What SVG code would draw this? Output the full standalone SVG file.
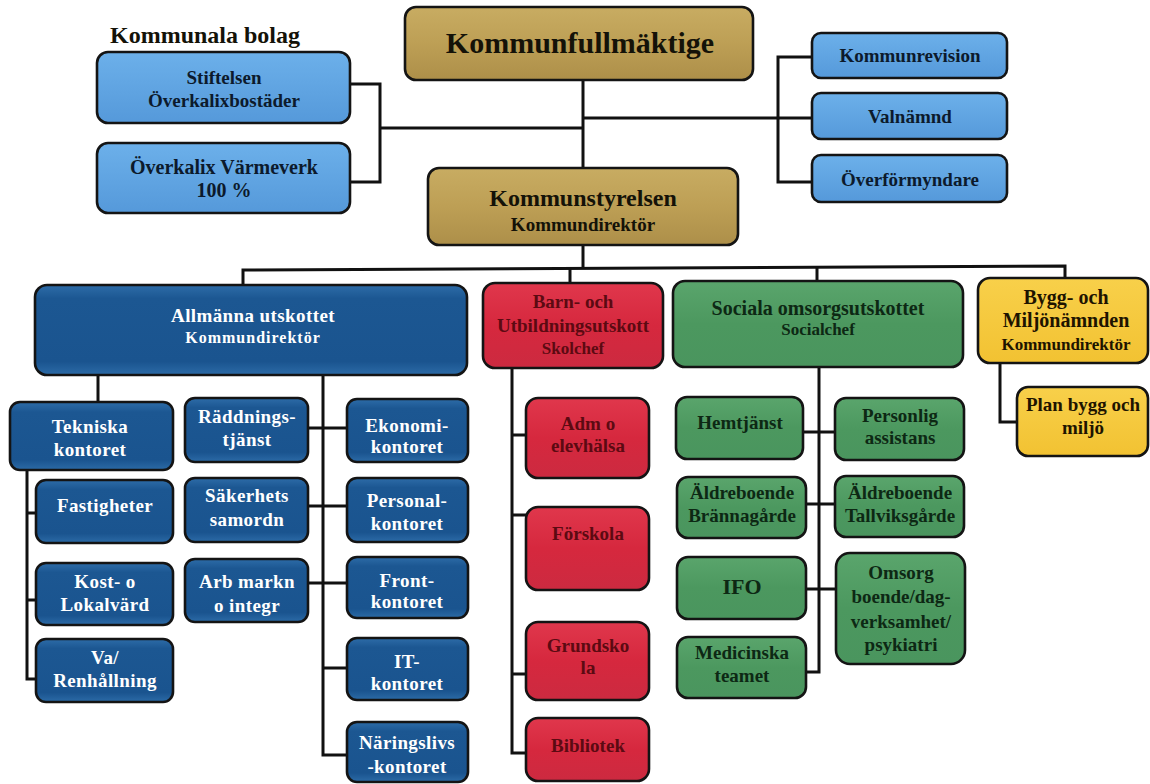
<svg xmlns="http://www.w3.org/2000/svg" width="1150" height="784" viewBox="0 0 1150 784">
<defs>
<linearGradient id="gGold" x1="0" y1="0" x2="0" y2="1"><stop offset="0" stop-color="#c8ac62"/><stop offset="0.5" stop-color="#bd9f55"/><stop offset="1" stop-color="#ad8f49"/></linearGradient>
<linearGradient id="gLBlue" x1="0" y1="0" x2="0" y2="1"><stop offset="0" stop-color="#6cb0ea"/><stop offset="1" stop-color="#5599da"/></linearGradient>
<linearGradient id="gDBlue" x1="0" y1="0" x2="0" y2="1"><stop offset="0" stop-color="#2d6ca8"/><stop offset="0.15" stop-color="#1c5792"/><stop offset="0.85" stop-color="#1a548f"/><stop offset="1" stop-color="#2c6ba7"/></linearGradient>
<linearGradient id="gRed" x1="0" y1="0" x2="0" y2="1"><stop offset="0" stop-color="#e0374c"/><stop offset="0.5" stop-color="#d6283e"/><stop offset="1" stop-color="#cc2a40"/></linearGradient>
<linearGradient id="gGreen" x1="0" y1="0" x2="0" y2="1"><stop offset="0" stop-color="#5aa56c"/><stop offset="0.5" stop-color="#4c985f"/><stop offset="1" stop-color="#4a955e"/></linearGradient>
<linearGradient id="gYellow" x1="0" y1="0" x2="0" y2="1"><stop offset="0" stop-color="#f8d04a"/><stop offset="1" stop-color="#f2c232"/></linearGradient>
</defs>
<style>
rect{stroke:#141414;stroke-width:2.6}
.gold{fill:url(#gGold)}
.lb{fill:url(#gLBlue)}
.db{fill:url(#gDBlue)}
.red{fill:url(#gRed)}
.grn{fill:url(#gGreen)}
.yel{fill:url(#gYellow)}
text{font-family:"Liberation Serif","Times New Roman",serif;font-weight:bold;text-anchor:middle}
.t19{font-size:19px}
.t17{font-size:17px}
.dark{fill:#141208}
.navy{fill:#0c1a2c}
.white{fill:#ffffff;letter-spacing:0.4px}
.dred{fill:#5c0a12}
.dgrn{fill:#0d2814}
.dyel{fill:#1e1400}
.conn{fill:none;stroke:#111;stroke-width:3}
</style>

<text x="205" y="43" style="font-size:24px" class="dark">Kommunala bolag</text>

<g id="connectors">
<path class="conn" d="M583 80V268"/>
<path class="conn" d="M380 128H583"/>
<path class="conn" d="M350 84H380V182H350"/>
<path class="conn" d="M583 118H778"/>
<path class="conn" d="M812 57H778V182H812M778 118H812"/>
<path class="conn" d="M243 285V270L1065 266V278"/>
<path class="conn" d="M570 269V283"/>
<path class="conn" d="M817 267V281"/>
<path class="conn" d="M98 375V402"/>
<path class="conn" d="M323 375V755H347"/>
<path class="conn" d="M27 470V679H36M27 513H36M27 600H36"/>
<path class="conn" d="M308 428H347M308 506H347M308 583H347M323 668H347"/>
<path class="conn" d="M512 368V753H526M512 435H526M512 515H526M512 674H526"/>
<path class="conn" d="M819 367V672H806M803 432H835M806 504H835M806 589H836"/>
<path class="conn" d="M1000 363V422H1017"/>
</g>

<g id="stiftelsen"><rect class="lb" x="97" y="52" width="253" height="71" rx="11"/>
<text x="224" y="84" class="t19 navy">Stiftelsen</text><text x="224" y="107" class="t19 navy">Överkalixbostäder</text></g>
<g id="varmeverk"><rect class="lb" x="97" y="143" width="253" height="70" rx="11"/>
<text x="224" y="174" style="font-size:20px" class="navy">Överkalix Värmeverk</text><text x="224" y="197" style="font-size:20px" class="navy">100 %</text></g>

<g id="kommunfullmaktige"><rect class="gold" x="405" y="7" width="348" height="73" rx="11"/>
<text x="580" y="53" style="font-size:30px" class="dark">Kommunfullmäktige</text></g>
<g id="kommunstyrelsen"><rect class="gold" x="428" y="168" width="310" height="77" rx="11"/>
<text x="583" y="206" style="font-size:24px" class="dark">Kommunstyrelsen</text><text x="583" y="231" style="font-size:19px" class="dark">Kommundirektör</text></g>

<g id="kommunrevision"><rect class="lb" x="812" y="33" width="195" height="45" rx="9"/>
<text x="910" y="62" class="t19 navy">Kommunrevision</text></g>
<g id="valnamnd"><rect class="lb" x="812" y="93" width="195" height="46" rx="9"/>
<text x="910" y="123" class="t19 navy">Valnämnd</text></g>
<g id="overformyndare"><rect class="lb" x="812" y="155" width="195" height="47" rx="9"/>
<text x="910" y="186" class="t19 navy">Överförmyndare</text></g>

<g id="allmanna"><rect class="db" x="35" y="285" width="432" height="90" rx="12"/>
<text x="253" y="322" style="font-size:19px" class="white">Allmänna utskottet</text><text x="253" y="343" style="font-size:16px;letter-spacing:1px" class="white">Kommundirektör</text></g>
<g id="barn"><rect class="red" x="483" y="283" width="180" height="85" rx="12"/>
<text x="573" y="308" class="t19 dred">Barn- och</text><text x="573" y="332" class="t19 dred">Utbildningsutskott</text><text x="573" y="354" class="t17 dred">Skolchef</text></g>
<g id="sociala"><rect class="grn" x="673" y="281" width="290" height="86" rx="12"/>
<text x="818" y="315" style="font-size:20px" class="dgrn">Sociala omsorgsutskottet</text><text x="818" y="335" class="t17 dgrn">Socialchef</text></g>
<g id="bygg"><rect class="yel" x="978" y="278" width="170" height="85" rx="12"/>
<text x="1066" y="304" style="font-size:20px" class="dyel">Bygg- och</text><text x="1066" y="327" style="font-size:20px" class="dyel">Miljönämnden</text><text x="1066" y="350" class="t17 dyel">Kommundirektör</text></g>

<g id="tekniska"><rect class="db" x="10" y="402" width="163" height="68" rx="10"/>
<text x="90" y="433" class="t19 white">Tekniska</text><text x="90" y="456" class="t19 white">kontoret</text></g>
<g id="fastigheter"><rect class="db" x="36" y="480" width="137" height="63" rx="10"/>
<text x="105" y="512" class="t19 white">Fastigheter</text></g>
<g id="kost"><rect class="db" x="36" y="563" width="137" height="62" rx="10"/>
<text x="105" y="588" class="t19 white">Kost- o</text><text x="105" y="611" class="t19 white">Lokalvärd</text></g>
<g id="va"><rect class="db" x="36" y="639" width="137" height="63" rx="10"/>
<text x="105" y="664" class="t19 white">Va/</text><text x="105" y="687" class="t19 white">Renhållning</text></g>

<g id="raddning"><rect class="db" x="185" y="398" width="123" height="64" rx="10"/>
<text x="247" y="423" class="t19 white">Räddnings-</text><text x="247" y="446" class="t19 white">tjänst</text></g>
<g id="sakerhet"><rect class="db" x="185" y="478" width="123" height="64" rx="10"/>
<text x="247" y="502" class="t19 white">Säkerhets</text><text x="247" y="526" class="t19 white">samordn</text></g>
<g id="arbmarkn"><rect class="db" x="185" y="559" width="123" height="63" rx="10"/>
<text x="247" y="588" class="t19 white">Arb markn</text><text x="247" y="612" class="t19 white">o integr</text></g>

<g id="ekonomi"><rect class="db" x="347" y="399" width="121" height="63" rx="10"/>
<text x="407" y="432" class="t19 white">Ekonomi-</text><text x="407" y="453" class="t19 white">kontoret</text></g>
<g id="personal"><rect class="db" x="347" y="478" width="121" height="64" rx="10"/>
<text x="407" y="507" class="t19 white">Personal-</text><text x="407" y="530" class="t19 white">kontoret</text></g>
<g id="front"><rect class="db" x="347" y="557" width="121" height="61" rx="10"/>
<text x="407" y="587" class="t19 white">Front-</text><text x="407" y="608" class="t19 white">kontoret</text></g>
<g id="it"><rect class="db" x="347" y="638" width="121" height="62" rx="10"/>
<text x="407" y="668" class="t19 white">IT-</text><text x="407" y="690" class="t19 white">kontoret</text></g>
<g id="naringsliv"><rect class="db" x="347" y="722" width="121" height="60" rx="10"/>
<text x="407" y="749" class="t19 white">Näringslivs</text><text x="407" y="773" class="t19 white">-kontoret</text></g>

<g id="adm"><rect class="red" x="526" y="398" width="123" height="80" rx="12"/>
<text x="588" y="430" class="t19 dred">Adm o</text><text x="588" y="452" class="t19 dred">elevhälsa</text></g>
<g id="forskola"><rect class="red" x="526" y="507" width="123" height="83" rx="12"/>
<text x="588" y="540" class="t19 dred">Förskola</text></g>
<g id="grundskola"><rect class="red" x="526" y="622" width="123" height="78" rx="12"/>
<text x="588" y="652" class="t19 dred">Grundsko</text><text x="588" y="674" class="t19 dred">la</text></g>
<g id="bibliotek"><rect class="red" x="526" y="718" width="123" height="63" rx="12"/>
<text x="588" y="752" class="t19 dred">Bibliotek</text></g>

<g id="hemtjanst"><rect class="grn" x="676" y="397" width="127" height="62" rx="11"/>
<text x="740" y="429" class="t19 dgrn">Hemtjänst</text></g>
<g id="personlig"><rect class="grn" x="835" y="398" width="129" height="62" rx="11"/>
<text x="900" y="422" class="t19 dgrn">Personlig</text><text x="900" y="444" class="t19 dgrn">assistans</text></g>
<g id="brannagarde"><rect class="grn" x="677" y="477" width="129" height="61" rx="11"/>
<text x="742" y="499" class="t19 dgrn">Äldreboende</text><text x="742" y="522" class="t19 dgrn">Brännagårde</text></g>
<g id="tallviksgarde"><rect class="grn" x="835" y="476" width="129" height="61" rx="11"/>
<text x="900" y="499" class="t19 dgrn">Äldreboende</text><text x="900" y="522" class="t19 dgrn">Tallviksgårde</text></g>
<g id="ifo"><rect class="grn" x="677" y="557" width="129" height="62" rx="11"/>
<text x="742" y="594" style="font-size:22px" class="dgrn">IFO</text></g>
<g id="omsorg"><rect class="grn" x="836" y="553" width="129" height="111" rx="14"/>
<text x="901" y="579" class="t19 dgrn">Omsorg</text><text x="901" y="603" class="t19 dgrn">boende/dag-</text><text x="901" y="628" class="t19 dgrn">verksamhet/</text><text x="901" y="651" class="t19 dgrn">psykiatri</text></g>
<g id="medicinska"><rect class="grn" x="677" y="637" width="129" height="61" rx="11"/>
<text x="742" y="659" class="t19 dgrn">Medicinska</text><text x="742" y="682" class="t19 dgrn">teamet</text></g>

<g id="planbygg"><rect class="yel" x="1017" y="387" width="131" height="69" rx="11"/>
<text x="1083" y="411" class="t19 dyel">Plan bygg och</text><text x="1083" y="434" class="t19 dyel">miljö</text></g>
</svg>
